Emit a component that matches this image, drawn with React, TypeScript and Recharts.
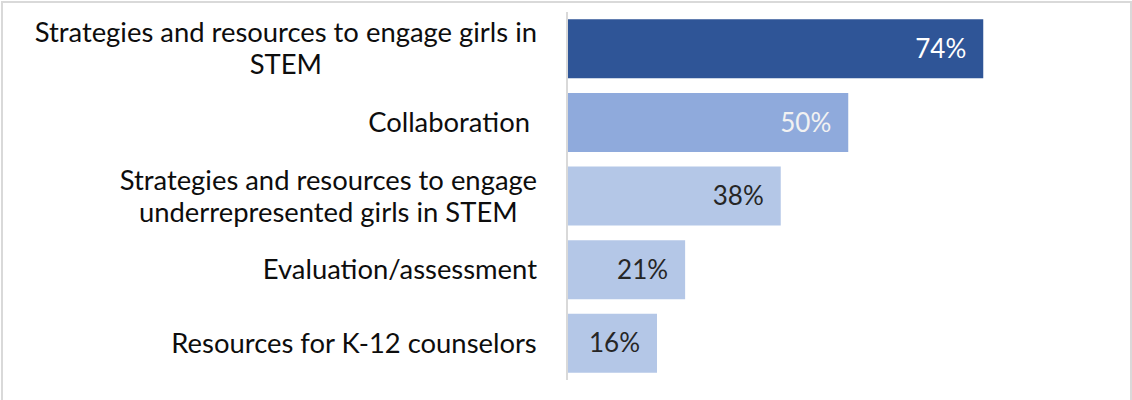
import React from "react";
import { BarChart, Bar, XAxis, YAxis, Cell, LabelList } from "recharts";

const categories = [
  "Strategies and resources to engage girls in STEM",
  "Collaboration ",
  "Strategies and resources to engage underrepresented girls in STEM",
  "Evaluation/assessment",
  "Resources for K-12 counselors",
];
const percents = [74, 50, 38, 21, 16];

const barColors = ["#2F5597", "#8FAADC", "#B4C7E7", "#B4C7E7", "#B4C7E7"];
const labelColors = ["#FFFFFF", "#F2F2F2", "#262626", "#262626", "#262626"];

const data = categories.map((name, i) => ({ name, value: percents[i] }));

const FONT = "Lato, 'Liberation Sans', sans-serif";
const TICK_SIZE = 27.4;
const VALUE_SIZE = 26;
const WRAP_WIDTH = 520;
const LINE_HEIGHT = 32;

let ctx: CanvasRenderingContext2D | null = null;
const measure = (s: string) => {
  if (!ctx) ctx = document.createElement("canvas").getContext("2d");
  if (!ctx) return s.length * TICK_SIZE * 0.5;
  ctx.font = `${TICK_SIZE}px ${FONT}`;
  return ctx.measureText(s).width;
};

const wrap = (text: string) => {
  const words = text.split(" ");
  const lines: string[] = [];
  let cur = "";
  words.forEach((w) => {
    const next = cur ? cur + " " + w : w;
    if (cur && measure(next) > WRAP_WIDTH) {
      lines.push(cur);
      cur = w;
    } else cur = next;
  });
  if (cur) lines.push(cur);
  return lines;
};

const CategoryTick = (props: any) => {
  const { x, y, payload } = props;
  const lines = wrap(payload.value);
  const maxW = Math.max(...lines.map((l) => measure(l)));
  const cx = x - maxW / 2;
  const y0 = y - ((lines.length - 1) * LINE_HEIGHT) / 2;
  return (
    <text
      textAnchor="middle"
      fill="#0D0D0D"
      fontSize={TICK_SIZE}
      fontFamily={FONT}
      style={{ whiteSpace: "pre" }}
    >
      {lines.map((l, i) => (
        <tspan key={i} x={cx} y={y0 + i * LINE_HEIGHT} dy="0.35em">
          {l}
        </tspan>
      ))}
    </text>
  );
};

const ValueLabel = (props: any) => {
  const { x, y, width, height, value, index } = props;
  return (
    <text
      x={x + width - 17}
      y={y + height / 2}
      dy="0.35em"
      textAnchor="end"
      fill={labelColors[index]}
      fontSize={VALUE_SIZE}
      fontFamily={FONT}
    >
      {value}%
    </text>
  );
};

export default function App() {
  return (
    <div
      style={{
        position: "absolute",
        left: 0,
        top: 0,
        width: 1132,
        height: 400,
        background: "#fff",
      }}
    >
      <div
        style={{
          position: "absolute",
          left: 1,
          top: 1,
          width: 1131,
          height: 410,
          boxSizing: "border-box",
          border: "2px solid #D9D9D9",
        }}
      />
      <div style={{ position: "absolute", left: 0, top: 0 }}>
        <BarChart
          width={1132}
          height={400}
          data={data}
          layout="vertical"
          margin={{ top: 12, right: 115, bottom: 20, left: 0 }}
          barCategoryGap="10%"
        >
          <XAxis type="number" domain={[0, 80]} hide />
          <YAxis
            type="category"
            dataKey="name"
            width={567}
            axisLine={{ stroke: "#D9D9D9", strokeWidth: 2 }}
            tickLine={false}
            tickSize={0}
            tickMargin={30}
            tick={<CategoryTick />}
            interval={0}
          />
          <Bar dataKey="value" isAnimationActive={false}>
            {data.map((d, i) => (
              <Cell key={`cell-${i}`} fill={barColors[i]} />
            ))}
            <LabelList dataKey="value" content={<ValueLabel />} />
          </Bar>
        </BarChart>
      </div>
    </div>
  );
}
